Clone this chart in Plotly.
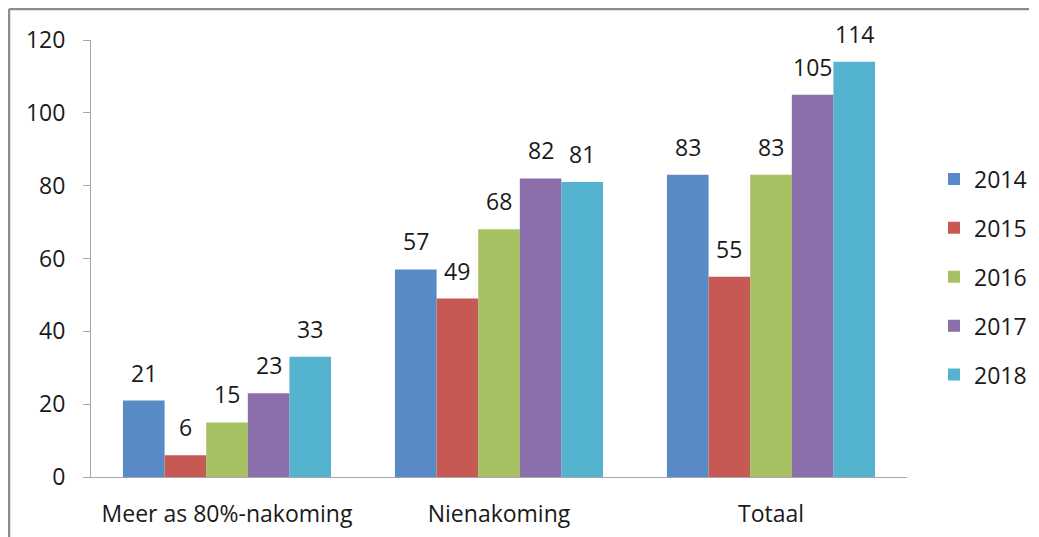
import plotly.graph_objects as go

categories = ["Meer as 80%-nakoming", "Nienakoming", "Totaal"]
years = ["2014", "2015", "2016", "2017", "2018"]
values_2014 = [21, 57, 83]
values_2015 = [6, 49, 55]
values_2016 = [15, 68, 83]
values_2017 = [23, 82, 105]
values_2018 = [33, 81, 114]
series = [values_2014, values_2015, values_2016, values_2017, values_2018]
colors = ["#588AC6", "#C75954", "#A6C162", "#8B6FAB", "#54B4CF"]
y_ticks = [0, 20, 40, 60, 80, 100, 120]

FONT = "Open Sans"
FS = 23
TXT = "#1a1a1a"

fig = go.Figure()
for i, (yr, vals) in enumerate(zip(years, series)):
    fig.add_trace(go.Bar(
        name=yr, x=categories, y=vals, marker_color=colors[i],
        marker_line_width=0, legendgroup=yr,
    ))

# page is offset by 8px body margin; figure coordinates below
W, H = 1039, 537
L, R, T, B = 83, 140, 32, 68
plot_w = W - L - R
plot_h = H - T - B
cat_w = plot_w / len(categories)
bargap = 0.235
bar_w = cat_w * (1 - bargap) / len(years)
annotations = []
for i, vals in enumerate(series):
    off = (i - (len(years) - 1) / 2) * bar_w
    for c, v in zip(categories, vals):
        annotations.append(dict(
            x=c, y=v, xref="x", yref="y", text=str(v), showarrow=False,
            xshift=off, yshift=28, yanchor="middle", xanchor="center",
            font=dict(family=FONT, size=FS, color=TXT),
        ))

bx0 = (1 - L) / plot_w
bx1 = (1021 - L) / plot_w
by1 = (H - B - 1) / plot_h
by0 = -(B + 40) / plot_h
border = dict(color="#8c8c8c", width=2.5)

fig.update_layout(
    width=W, height=H,
    margin=dict(l=L, r=R, t=T, b=B, autoexpand=False),
    paper_bgcolor="white", plot_bgcolor="white",
    barmode="group", bargap=bargap, bargroupgap=0,
    font=dict(family=FONT, size=FS, color=TXT),
    showlegend=True,
    legend=dict(
        xref="container", yref="container",
        x=926 / W, xanchor="left", y=1 - 269 / H, yanchor="middle",
        font=dict(family=FONT, size=FS, color=TXT),
        tracegroupgap=16, itemwidth=30, traceorder="grouped",
    ),
    annotations=annotations,
    shapes=[
        dict(type="line", xref="paper", yref="paper",
             x0=bx0, x1=bx1, y0=by1, y1=by1, line=border),
        dict(type="line", xref="paper", yref="paper",
             x0=bx0, x1=bx0, y0=by0, y1=by1, line=border),
    ],
)
fig.update_yaxes(
    range=[0, 120], tickvals=y_ticks, showgrid=False, zeroline=False,
    showline=True, linecolor="#a6a6a6", linewidth=1,
    ticks="outside", ticklen=7, tickcolor="#a6a6a6",
    ticklabelstandoff=13, tickfont=dict(family=FONT, size=FS, color=TXT),
)
fig.update_xaxes(
    showgrid=False, showline=True, linecolor="#a6a6a6", linewidth=1,
    ticks="", ticklabelstandoff=16, tickfont=dict(family=FONT, size=FS, color=TXT),
)

fig.write_html("out.html")
